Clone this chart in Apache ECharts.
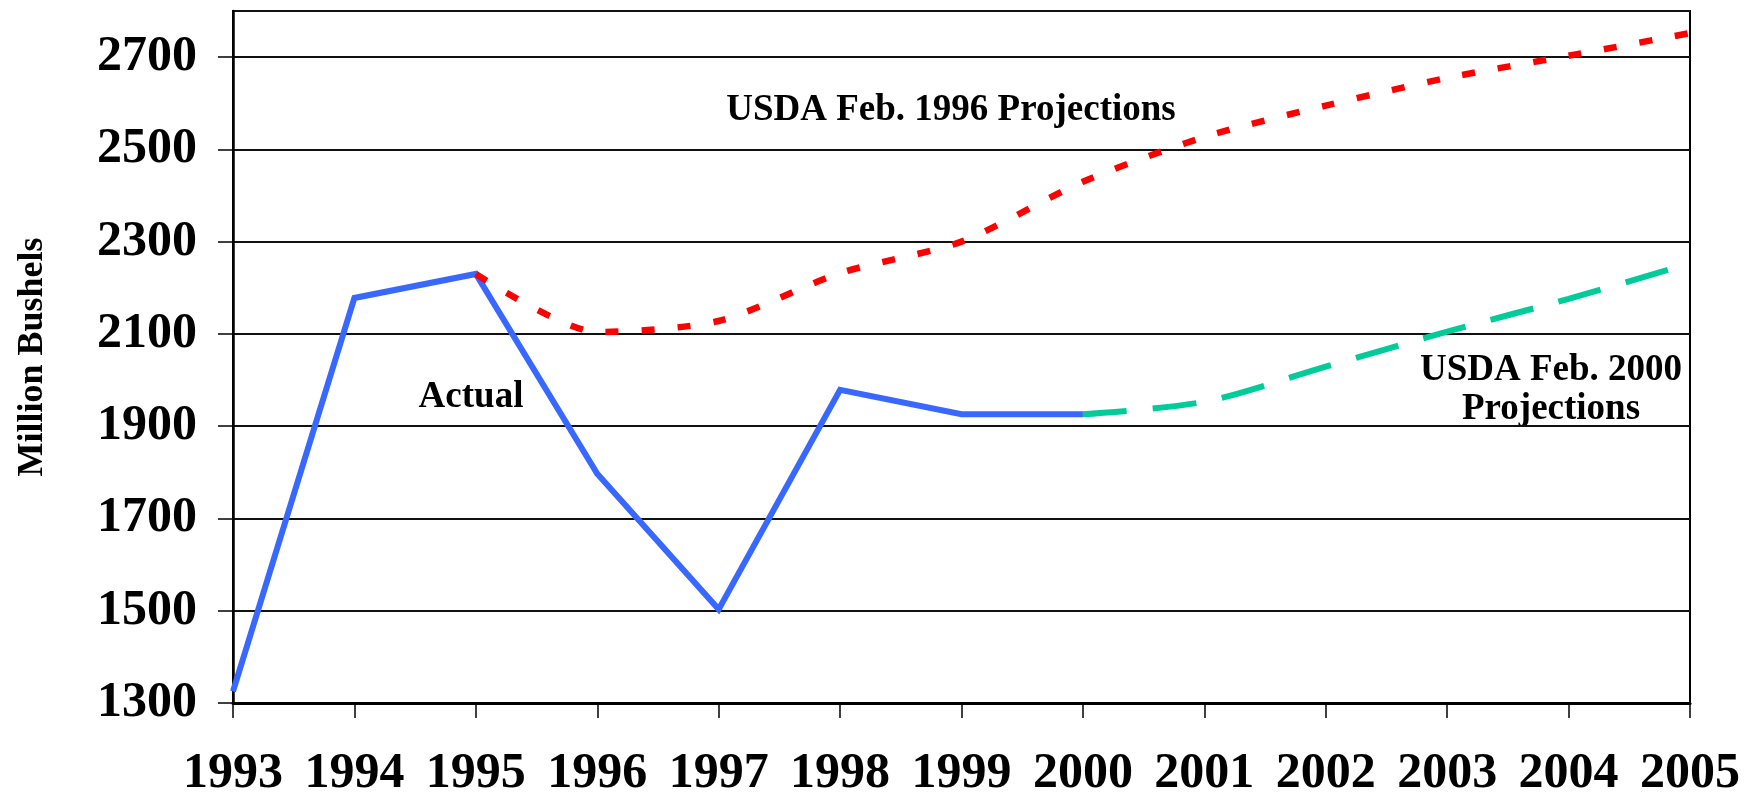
<!DOCTYPE html>
<html>
<head>
<meta charset="utf-8">
<title>Corn exports</title>
<script src="https://cdn.jsdelivr.net/npm/echarts@6/dist/echarts.min.js"></script>
<style>
  html, body { margin: 0; padding: 0; background: #fff; }
  #chart { width: 1752px; height: 799px; }
</style>
</head>
<body>
<div id="chart"></div>
<script>
  // years on the x axis
  const years = ['1993', '1994', '1995', '1996', '1997', '1998', '1999', '2000', '2001', '2002', '2003', '2004', '2005']
  // million bushels
  const actual = [1325, 2178, 2230, 1797, 1503, 1979, 1926, 1926, null, null, null, null, null]
  const proj1996 = [null, null, 2230, 2104, 2128, 2232, 2300, 2430, 2527, 2595, 2655, 2703, 2752]
  const proj2000 = [null, null, null, null, null, null, null, 1926, 1953, 2029, 2105, 2176, 2253]
  const yTicks = [1300, 1500, 1700, 1900, 2100, 2300, 2500, 2700]

  const serif = "'Liberation Serif', 'Times New Roman', serif"

  const chart = echarts.init(document.getElementById('chart'))
  chart.setOption({
    animation: false,
    backgroundColor: '#fff',
    grid: {
      left: 233,
      right: 62,
      top: 11,
      bottom: 91,
      show: true,
      borderColor: '#000',
      borderWidth: 2,
    },
    xAxis: {
      type: 'category',
      data: years,
      boundaryGap: false,
      axisLine: { lineStyle: { color: '#000', width: 3 } },
      axisTick: { show: true, length: 15, lineStyle: { color: '#000', width: 1.5 } },
      axisLabel: {
        margin: 46,
        color: '#000',
        fontFamily: serif,
        fontWeight: 'bold',
        fontSize: 50,
        interval: 0,
      },
      splitLine: { show: false },
    },
    yAxis: {
      type: 'value',
      min: 1300,
      max: 2800,
      interval: 200,
      name: 'Million Bushels',
      nameLocation: 'middle',
      nameGap: 182,
      nameTextStyle: {
        color: '#000',
        fontFamily: serif,
        fontWeight: 'bold',
        fontSize: 36,
      },
      axisLine: { show: true, lineStyle: { color: '#000', width: 2.5 } },
      axisTick: { show: true, length: 15, lineStyle: { color: '#000', width: 1.5 } },
      axisLabel: {
        margin: 36,
        color: '#000',
        fontFamily: serif,
        fontWeight: 'bold',
        fontSize: 50,
        showMaxLabel: false,
        formatter: function (v) {
          return yTicks.indexOf(v) >= 0 ? String(v) : ''
        },
      },
      splitLine: { show: true, lineStyle: { color: '#111', width: 2 } },
    },
    series: [
      {
        name: 'Actual',
        type: 'line',
        data: actual,
        symbol: 'none',
        lineStyle: { color: '#3868ff', width: 6, cap: 'butt', join: 'miter' },
      },
      {
        name: 'USDA Feb. 1996 Projections',
        type: 'line',
        data: proj1996,
        symbol: 'none',
        smooth: 0.25,
        lineStyle: { color: '#ff0000', width: 6.5, type: [13, 23], cap: 'butt' },
      },
      {
        name: 'USDA Feb. 2000 Projections',
        type: 'line',
        data: proj2000,
        symbol: 'none',
        smooth: 0.3,
        lineStyle: { color: '#00cc99', width: 6, type: [44, 26], cap: 'butt' },
      },
    ],
    graphic: [
      {
        type: 'text',
        x: 951,
        y: 110,
        style: {
          text: 'USDA Feb. 1996 Projections',
          fill: '#000',
          font: 'bold 37px ' + serif,
          align: 'center',
          verticalAlign: 'middle',
        },
      },
      {
        type: 'text',
        x: 471,
        y: 397,
        style: {
          text: 'Actual',
          fill: '#000',
          font: 'bold 37px ' + serif,
          align: 'center',
          verticalAlign: 'middle',
        },
      },
      {
        type: 'text',
        x: 1551,
        y: 390,
        style: {
          text: 'USDA Feb. 2000\nProjections',
          fill: '#000',
          font: 'bold 37px ' + serif,
          lineHeight: 39,
          align: 'center',
          verticalAlign: 'middle',
        },
      },
    ],
  })
</script>
</body>
</html>
